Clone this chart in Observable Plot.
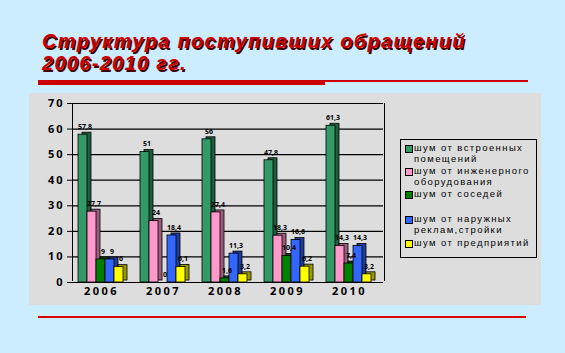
<!DOCTYPE html>
<html>
<head>
<meta charset="utf-8">
<script src="https://cdn.jsdelivr.net/npm/d3@7"></script>
<script src="https://cdn.jsdelivr.net/npm/@observablehq/plot@0.6"></script>
<style>
  html, body { margin: 0; padding: 0; }
  body { width: 565px; height: 353px; background: #CCECFF; position: relative; overflow: hidden; font-family: "Liberation Sans", Arial, sans-serif; }
  .title { position: absolute; left: 42px; top: 31px; color: #CC0000; font-weight: bold; font-style: italic; font-size: 20px; line-height: 21.5px; letter-spacing: 1.3px; text-shadow: 1.5px 1.5px 0 #3a0000; white-space: nowrap; }
  .rule-thick { position: absolute; left: 38px; top: 80px; width: 287px; height: 5px; background: #CC0000; }
  .rule-thin { position: absolute; left: 325px; top: 80px; width: 203px; height: 1.5px; background: #CC0000; }
  .rule-bottom { position: absolute; left: 38px; top: 316px; width: 488px; height: 1.5px; background: #DD0000; }
  .panel { position: absolute; left: 29px; top: 93px; width: 512px; height: 212px; background: #DDDDDD; }
  .walls { position: absolute; left: 72px; top: 103px; width: 311px; height: 178px; border-left: 1px solid #000; border-right: 1px solid #000; }
  #chart { position: absolute; left: 0; top: 0; }
  .legend { position: absolute; left: 400px; top: 139px; width: 137px; height: 119px; border: 1px solid #000; box-sizing: border-box; font-size: 9.5px; letter-spacing: 1.4px; line-height: 10.5px; color: #000; }
  .item { position: absolute; left: 13px; white-space: nowrap; }
  .sw { position: absolute; left: -9px; top: 2px; width: 6px; height: 6px; border: 1px solid #000; }
</style>
</head>
<body>
<div class="title">Структура поступивших обращений<br>2006-2010 гг.</div>
<div class="rule-thick"></div>
<div class="rule-thin"></div>
<div class="panel"></div>
<div class="walls"></div>
<div id="chart"></div>
<div class="legend" id="legend"></div>
<div class="rule-bottom"></div>
<script>
const years = ["2006", "2007", "2008", "2009", "2010"];
const seriesNames = [
  "шум от встроенных помещений",
  "шум от инженерного оборудования",
  "шум от соседей",
  "шум от наружных реклам,стройки",
  "шум от предприятий"
];
const builtIn    = [57.8, 51, 56, 47.8, 61.3];
const equipment  = [27.7, 24, 27.4, 18.3, 14.3];
const neighbours = [9, 0, 1.6, 10.4, 7.4];
const outdoor    = [9, 18.4, 11.3, 16.6, 14.3];
const industry   = [6, 6.1, 3.2, 6.2, 3.2];
const frontColors = ["#339966", "#FF99CC", "#008000", "#3366FF", "#FFFF00"];
const sideColors  = ["#1E5E3E", "#995C7A", "#004D00", "#1F3D99", "#999900"];
const yTicks = [0, 10, 20, 30, 40, 50, 60, 70];

const seriesValues = [builtIn, equipment, neighbours, outdoor, industry];
const data = [];
years.forEach((y, i) => {
  seriesNames.forEach((s, j) => {
    data.push({year: y, series: s, value: seriesValues[j][i], front: frontColors[j], side: sideColors[j]});
  });
});
const fmt = v => String(v).replace(".", ",");

const plot = Plot.plot({
  width: 565,
  height: 305,
  marginLeft: 72,
  marginRight: 181,
  marginTop: 103,
  marginBottom: 23,
  style: {background: "transparent", overflow: "visible"},
  fx: {domain: years, padding: 0, label: null, tickSize: 0, tickPadding: 5},
  x: {domain: seriesNames, axis: null, paddingInner: 0, paddingOuter: 0.75, align: 0.28},
  y: {domain: [0, 70], ticks: yTicks, tickSize: 6, tickPadding: 3, label: null},
  color: {type: "identity"},
  facet: {data: data, x: "year", label: null},
  marks: [
    Plot.ruleY(yTicks, {stroke: "#000", strokeWidth: 1.2}),
    Plot.barY(data, {x: "series", y: "value", fx: "year", fill: "side", stroke: "#000", strokeWidth: 0.8, dx: 4, dy: -2, inset: 0}),
    Plot.barY(data, {x: "series", y: "value", fx: "year", fill: "front", stroke: "#000", strokeWidth: 0.8, inset: 0}),
    Plot.text(data, {x: "series", y: "value", fx: "year", text: d => fmt(d.value), dy: -8, dx: 2, fontSize: 7, fontWeight: "bold", fill: "#000"}),
    Plot.ruleY([0], {stroke: "#000", strokeWidth: 1.2})
  ]
});
document.getElementById("chart").appendChild(plot);

plot.querySelectorAll("g[aria-label='y-axis tick label'] text, g[aria-label='y-axis'] text").forEach(t => {
  t.style.fontWeight = "bold"; t.style.fontSize = "11px"; t.style.letterSpacing = "2px";
});
plot.querySelectorAll("g[aria-label='fx-axis tick label'] text, g[aria-label='fx-axis'] text").forEach(t => {
  t.style.fontWeight = "bold"; t.style.fontSize = "11px"; t.style.letterSpacing = "2.5px";
  t.setAttribute("dx", "-3");
});

const legendLines = [
  [0, ["шум от встроенных", "помещений"], 3],
  [1, ["шум от инженерного", "оборудования"], 26],
  [2, ["шум от соседей"], 49],
  [3, ["шум от наружных", "реклам,стройки"], 74],
  [4, ["шум от предприятий"], 98]
];
const leg = document.getElementById("legend");
legendLines.forEach(([j, lines, top]) => {
  const it = document.createElement("div");
  it.className = "item";
  it.style.top = top + "px";
  it.innerHTML = `<span class="sw" style="background:${frontColors[j]}"></span>` + lines.join("<br>");
  leg.appendChild(it);
});
</script>
</body>
</html>
